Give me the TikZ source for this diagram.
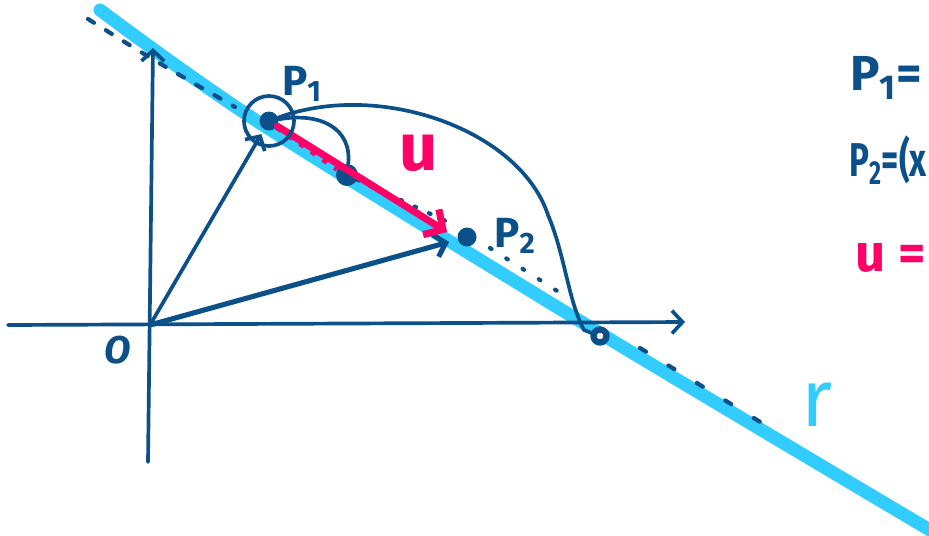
\documentclass[tikz,border=0pt]{standalone}
\usepackage{fontspec}
\setmainfont{Fira Sans}
\usetikzlibrary{arrows.meta, positioning}

\definecolor{ink}{RGB}{12,80,138}
\definecolor{sky}{RGB}{51,204,255}
\definecolor{pink}{RGB}{255,0,102}

\begin{document}
\begin{tikzpicture}[
            % one unit = one pixel of the sketch
            x=0.02cm, y=-0.02cm,
            pen/.style={draw=ink, line width=2.1pt, line cap=round, line join=round},
            barb/.style={-{Straight Barb[length=6pt, width=13pt]}},
            dot/.style={circle, fill=ink, inner sep=0pt, minimum size=0.38cm},
            ring/.style={circle, draw=ink, line width=3.6pt, fill=white, inner sep=0pt, minimum size=0.26cm},
            hand/.style={text=ink, inner sep=0pt, font=\fontsize{24}{26}\selectfont\bfseries},
            big/.style={inner sep=0pt, font=\fontsize{38}{40}\selectfont\bfseries}
        ]

        % Sheet
        \path[use as bounding box, fill=white] (0,0) rectangle (929,535);
        \clip (0,0) rectangle (929,535);

        % Line r
        \draw[sky, line width=7.4pt, line cap=round]
            plot[smooth] coordinates {(100,10) (260,123) (598,332) (940,536)};

        % Points
        \coordinate (o) at (150,325);
        \node[dot] (p1) at (269,121) {};
        \node[dot, minimum size=0.44cm] (m) at (347,175) {};
        \node[dot] (p2) at (467,237) {};
        \node[ring] (q) at (600,336) {};

        % Axes
        \coordinate (xl) at (8,325);
        \coordinate (xr) at (685,322);
        \coordinate (yb) at (148,462);
        \coordinate (yt) at (153,48);
        \draw[pen, barb] (xl) -- (xr);
        \draw[pen, barb] (yb) -- (yt);
        \node[hand, font=\fontsize{22}{24}\selectfont\bfseries\itshape] (olab) at (118,350) {O};

        % Dashes along r
        \draw[pen, line width=2.4pt, dash pattern=on 4pt off 8pt] (88,19) .. controls (150,58) .. (235,107);
        \draw[pen, line width=2.4pt, dash pattern=on 1pt off 8pt] (m) -- (450,223);
        \draw[pen, line width=2.4pt, dash pattern=on 1pt off 10pt] (490,248) -- (565,296);
        \draw[pen, line width=2.4pt, dash pattern=on 4pt off 15pt] (640,348) -- (770,428);

        % Position vectors
        \draw[pen, barb, shorten >=3pt] (o) -- (p1);
        \draw[pen, line width=2.9pt, barb, shorten >=5pt] (o) -- (p2);

        % Vector u
        \coordinate (utip) at (447,232);
        \draw[pink, line width=4pt, line cap=round,
              -{Straight Barb[length=8pt, width=17pt]}] (p1) -- (utip);
        \draw[pink, line width=4pt, dash pattern=on 3pt off 5pt] (p1) -- (m);

        % Loops
        \draw[pen] (p1) circle[radius=25];
        \draw[pen] (p1) .. controls (320,112) and (352,128) .. (m);
        \draw[pen] (p1) .. controls (380,80) and (520,130) .. (548,215)
            .. controls (565,255) and (568,300) .. (584,330) -- (q);

        % Labels on the sketch
        \node[hand] (lp1) at (302,84) {P$_{\mathbf{1}}$};
        \node[hand] (lp2) at (515,236) {P$_{\mathbf{2}}$};
        \node[big, text=pink] (lu) at (419,153) {u};
        \node[big, text=sky, font=\fontsize{46}{48}\selectfont] (lr) at (817,405) {r};

        % Notes on the right
        \node[hand, anchor=west, font=\fontsize{28}{30}\selectfont\bfseries] (n1) at (850,78) {P$_{\mathbf{1}}$=};
        \node[hand, anchor=west, font=\fontsize{27}{29}\selectfont\bfseries,
              xscale=0.7, transform shape] (n2) at (849,160) {P$_{\mathbf{2}}$=(x};
        \node[big, text=pink, anchor=west, font=\fontsize{30}{32}\selectfont\bfseries] (n3) at (855,258) {u =};

        \end{tikzpicture}
\end{document}
